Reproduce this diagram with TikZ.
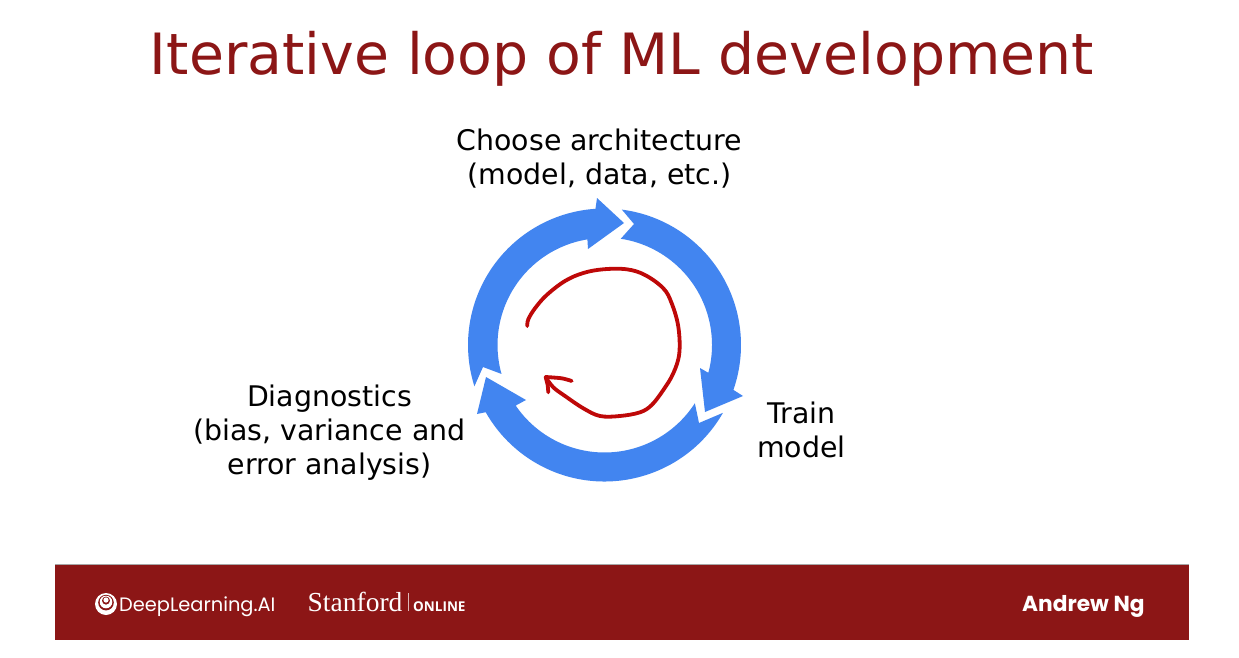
\documentclass[tikz,border=0pt]{standalone}
\usepackage{fontspec}
\usetikzlibrary{calc}
\setmainfont{DejaVu Sans}
\newfontfamily\popf{Poppins}
\newfontfamily\serf{Liberation Serif}
\newfontfamily\onlf{Open Sans}
\definecolor{crim}{RGB}{140,22,22}
\definecolor{ringblue}{RGB}{66,133,240}
\definecolor{ink}{RGB}{190,8,8}
\tikzset{
  lbl/.style={align=center,inner sep=0pt,text=black,font=\fontsize{28.4}{34}\selectfont},
  ringarrow/.style={fill=ringblue,draw=none},
  pen/.style={draw=ink,line width=3.8pt,line cap=round,line join=round},
  foot/.style={text=white,inner sep=0pt,anchor=base west}
}
\begin{document}
\begin{tikzpicture}[x=1pt,y=-1pt]
\useasboundingbox (0,0) rectangle (1239,658);
\fill[white] (0,0) rectangle (1239,658);
\node[inner sep=0pt,text=crim,font=\fontsize{56.9}{66}\selectfont] (title) at (622,59) {Iterative loop of ML development};
\node[lbl] (arch) at (599.5,159) {Choose architecture\\(model, data, etc.)};
\node[lbl] (diag) at (329.5,432.5) {Diagnostics\\(bias, variance and\\error analysis)};
\node[lbl] (train) at (801.5,430) {Train\\model};
% ring arrows: angles run clockwise on screen because y points down
\coordinate (c) at (604.5,345);
\fill[ringarrow] ($(c)+(162.4:136.5)$) arc[start angle=162.4,end angle=266.2,radius=136.5]
  -- (597,198) -- (624,223) -- (588,249) -- ($(c)+(260.8:107)$)
  arc[start angle=260.8,end angle=164.3,radius=107] -- (483,367) -- cycle;
\fill[ringarrow] ($(c)+(277.3:136.5)$) arc[start angle=277.3,end angle=379.2,radius=136.5]
  -- (743,396) -- (705,412) -- (700,368) -- ($(c)+(15:107.5)$)
  arc[start angle=15,end angle=-81.3,radius=107.5] -- (634,224) -- cycle;
\fill[ringarrow] ($(c)+(29.8:136.5)$) arc[start angle=29.8,end angle=150.5,radius=136.5]
  -- (477,414) -- (486,377) -- (526,400) -- ($(c)+(145.7:107.5)$)
  arc[start angle=145.7,end angle=32.8,radius=107.5] -- (699,423) -- cycle;
% band
\fill[crim] (55,565) rectangle (1189,640);
\draw[gray!70,line width=0.8pt] (55,564.6) -- (1189,564.6);
\fill[white] (106,604) circle (11);
\fill[crim] (106,602.6) circle (7.8);
\fill[white] (106,602) circle (6.3);
\fill[crim] (106,600.6) circle (4);
\fill[white] (106,600) circle (2.6);
\node[foot,font=\popf\fontsize{19.4}{24}\selectfont] (dl) at (119,611) {DeepLearning.AI};
\node[foot,font=\serf\fontsize{27.5}{30}\selectfont] (su) at (307.5,611) {Stanford};
\draw[white!70!crim,line width=0.6pt] (408,593) -- (408,611);
\node[foot,font=\onlf\bfseries\fontsize{13.5}{18}\selectfont] (on) at (413,611) {ONLINE};
\node[foot,font=\popf\bfseries\fontsize{21.7}{24}\selectfont] (ng) at (1022,611) {Andrew Ng};
% ink
\draw[pen] plot[smooth,tension=0.6] coordinates {(527.3,326)(528.3,319.3)(535,308.3)(546.7,295)(565,281)(583.3,273)(603.3,269.3)(626.7,269.3)(645,275)(663.3,288.3)(671.7,303.3)(678.3,326.7)(679.3,353.3)(673.3,373.3)(663.3,390)(651.7,405)(640,412.3)(620,416)(600,416)(583.3,408.3)(565,396)(553.3,387.3)(545.7,377.3)};
\draw[pen] plot[smooth,tension=0.5] coordinates {(571.7,381)(561.7,378.3)(545.7,377)};
\draw[pen] (545.7,377) -- (547.7,385) -- (548.3,392.3);
\end{tikzpicture}
\end{document}
